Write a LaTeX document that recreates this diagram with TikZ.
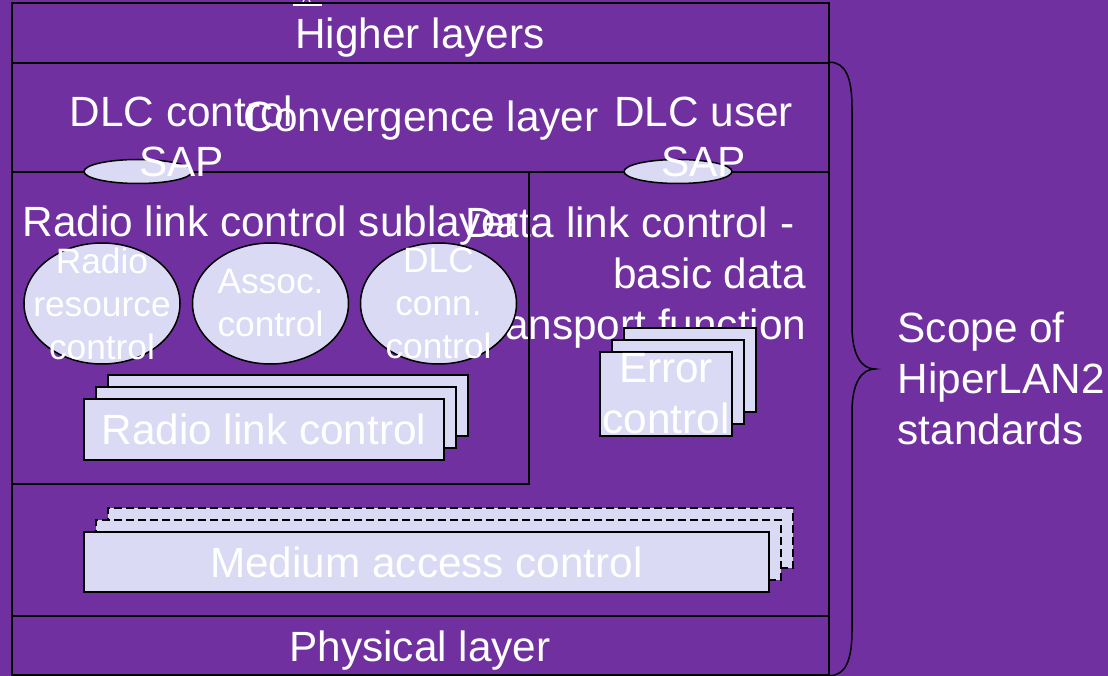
\documentclass[tikz,border=0pt]{standalone}
\usepackage{fontspec}
\setmainfont{Liberation Sans}
\usetikzlibrary{shapes.geometric}
\definecolor{hlpurple}{RGB}{112,48,160}
\definecolor{hllilac}{RGB}{218,218,244}

\begin{document}
\begin{tikzpicture}[x=1pt,y=-1pt,line width=1.5pt,
  bigtxt/.style={text=white,inner sep=0pt,font=\fontsize{42.3}{50.8}\selectfont},
  smalltxt/.style={text=white,inner sep=0pt,align=center,font=\fontsize{35.3}{43}\selectfont},
  layerbox/.style={draw,rectangle,inner sep=0pt,minimum width=817},
  fnbox/.style={draw,fill=hllilac,rectangle,inner sep=0pt},
  sapmark/.style={draw,fill=hllilac,ellipse,inner sep=0pt,minimum width=108,minimum height=24},
  fnellipse/.style={draw,fill=hllilac,ellipse,inner sep=0pt,minimum width=156,minimum height=121},
  macdash/.style={dash pattern=on 8pt off 4pt}]
  \fill[hlpurple] (0,0) rectangle (1108,676);
  \useasboundingbox (0,0) rectangle (1108,676);
  % bit of the title that sticks in from above
  \fill[white] (293,4) rectangle (322,6);
  \draw[white,line width=1.2pt] (304,0) -- (302,4) (309,0) -- (311,4);

  % the protocol layers
  \node[layerbox,minimum height=60] (higher) at (420.5,33) {};
  \node[layerbox,minimum height=109] (conv) at (420.5,117.5) {};
  \node[layerbox,minimum height=444] (dlc) at (420.5,394) {};
  \node[layerbox,minimum height=59] (phy) at (420.5,645.5) {};
  \node[bigtxt,anchor=base] (highertxt) at (420,49) {Higher layers};
  \node[bigtxt,anchor=base] (convtxt) at (421,132) {Convergence layer};
  \node[bigtxt,anchor=base] (phytxt) at (420,661) {Physical layer};
  % base of a multi-line node is its last line
  \node[bigtxt,anchor=base east,align=right] (dlctxt) at (807,339)
    {Data link control -\hspace*{12pt}\\basic data\hspace*{12pt}\\transport function};

  % radio link control sublayer
  \node[draw,rectangle,inner sep=0pt,minimum width=517,minimum height=312] (rlcsub) at (270.5,328) {};
  \node[bigtxt,anchor=base west] (rlcsubtxt) at (22,237) {Radio link control sublayer};
  \node[fnellipse] (rrc) at (102,303.5) {};
  \node[fnellipse] (acc) at (270.5,303.5) {};
  \node[fnellipse] (dcc) at (438.5,303.5) {};
  \node[smalltxt] at (rrc) {Radio\\resource\\control};
  \node[smalltxt] at (acc) {Assoc.\\control};
  \node[smalltxt] at (dcc) {DLC\\conn.\\control};
  \foreach \k in {2,1,0}
    \node[fnbox,minimum width=360,minimum height=61] (rlc\k) at (264+12*\k,429.5-12*\k) {};
  \node[bigtxt] at (rlc0) {Radio link control};

  % error control entities
  \foreach \k in {2,1,0}
    \node[fnbox,minimum width=132,minimum height=84] (ec\k) at (666+12*\k,394-12*\k) {};
  \node[bigtxt,align=center] at (ec0) {Error\\control};

  % medium access control
  \foreach \k/\edge in {2/macdash,1/macdash,0/solid}
    \node[fnbox,\edge,minimum width=685,minimum height=60] (mac\k) at (426.5+12*\k,562-12*\k) {};
  \node[bigtxt] at (mac0) {Medium access control};

  % service access points
  \node[sapmark] (ctrlsap) at (138,171.5) {};
  \node[sapmark] (usersap) at (678,171.5) {};
  \node[bigtxt,anchor=base,align=center] (ctrlsaptxt) at (181.5,177) {DLC control\\SAP};
  \node[bigtxt,anchor=base,align=center] (usersaptxt) at (703.5,177) {DLC user\\SAP};

  % scope brace
  \coordinate (scopetip) at (875,369);
  \draw (conv.north east) .. controls +(16,0) and +(0,-30) .. (852,108) -- (852,326)
    .. controls (852,356) and (862,369) .. (scopetip)
    .. controls (862,369) and (852,382) .. (852,412) -- (852,630)
    .. controls (852,662) and (845,675) .. (phy.south east);
  \node[bigtxt,anchor=base west,align=left] (scopetxt) at (897,444) {Scope of\\HiperLAN2\\standards};
\end{tikzpicture}
\end{document}
